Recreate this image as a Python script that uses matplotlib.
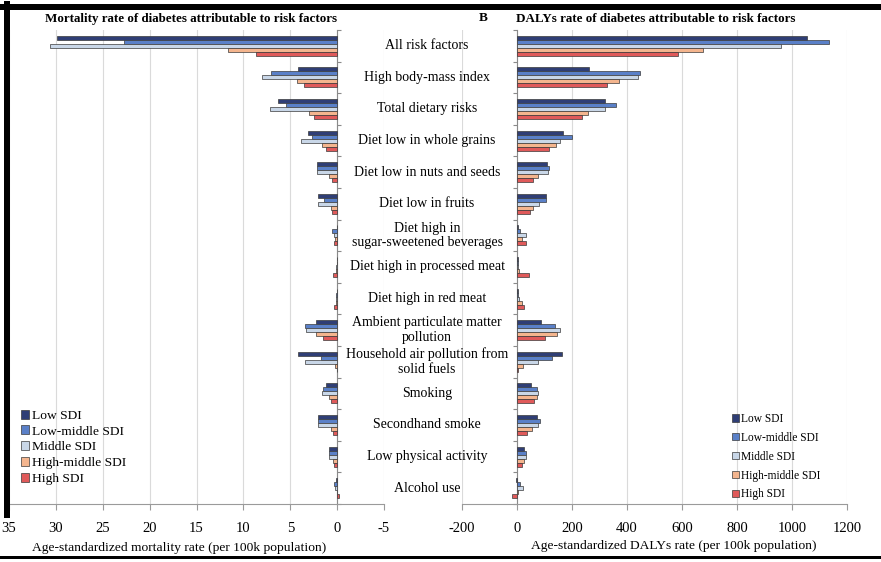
import matplotlib
matplotlib.use("Agg")
import matplotlib.pyplot as plt
import matplotlib.transforms as mtransforms
from matplotlib.lines import Line2D
import numpy as np

plt.rcParams["font.family"] = ["Liberation Serif", "DejaVu Serif"]

categories = [
    "All risk factors",
    "High body-mass index",
    "Total dietary risks",
    "Diet low in whole grains",
    "Diet low in nuts and seeds",
    "Diet low in fruits",
    "Diet high in\nsugar-sweetened beverages",
    "Diet high in processed meat",
    "Diet high in red meat",
    "Ambient particulate matter\npollution",
    "Household air pollution from\nsolid fuels",
    "Smoking",
    "Secondhand smoke",
    "Low physical activity",
    "Alcohol use",
]

series = ["Low SDI", "Low-middle SDI", "Middle SDI", "High-middle SDI", "High SDI"]
colors = ["#2F3E75", "#5A80C8", "#C9D7E8", "#F4B58E", "#E05A5A"]

# mortality rate per 100k, one list per SDI group
mort_low = [29.9, 4.15, 6.3, 3.1, 2.1, 2.0, 0.05, 0.05, 0.05, 2.3, 4.15, 1.2, 2.0, 0.85, 0.15]
mort_lowmid = [22.7, 7.05, 5.5, 2.65, 2.1, 1.4, 0.5, 0.05, 0.1, 3.4, 1.75, 1.55, 2.05, 0.85, 0.3]
mort_mid = [30.6, 8.0, 7.2, 3.9, 2.2, 2.0, 0.3, 0.1, 0.1, 3.3, 3.4, 1.6, 2.0, 0.9, 0.25]
mort_highmid = [11.6, 4.3, 3.0, 1.6, 0.85, 0.7, 0.2, 0.1, 0.15, 2.3, 0.2, 0.85, 0.7, 0.4, 0.05]
mort_high = [8.65, 3.5, 2.45, 1.2, 0.6, 0.5, 0.35, 0.45, 0.3, 1.55, 0.05, 0.7, 0.45, 0.35, -0.15]

# DALYs rate per 100k
daly_low = [1054, 260, 321, 167, 109, 107, 3, 2, 2, 88, 164, 52, 73, 27, -2]
daly_lowmid = [1133, 448, 360, 200, 116, 107, 12, 3, 5, 139, 127, 73, 82, 33, 12]
daly_mid = [960, 439, 321, 157, 113, 81, 33, 5, 8, 157, 75, 78, 78, 31, 22]
daly_highmid = [676, 370, 257, 142, 76, 58, 18, 6, 18, 145, 22, 74, 55, 24, 5]
daly_high = [584, 327, 236, 115, 58, 46, 34, 42, 24, 103, 3, 63, 36, 18, -18]

mort = [mort_low, mort_lowmid, mort_mid, mort_highmid, mort_high]
daly = [daly_low, daly_lowmid, daly_mid, daly_highmid, daly_high]

W, H = 881, 562
fig = plt.figure(figsize=(W / 100, H / 100), dpi=100)


def px_rect(x0, y0, x1, y1):
    return [x0 / W, 1 - y1 / H, (x1 - x0) / W, (y1 - y0) / H]


ax1 = fig.add_axes(px_rect(9, 30, 384, 504))
ax2 = fig.add_axes(px_rect(462, 30, 847, 504))

n = len(categories)
y = np.arange(n)
bar_h = 0.127


def draw_panel(ax, data, xlim, xticks, zero_spine):
    for k, (vals, col, name) in enumerate(zip(data, colors, series)):
        ax.barh(y + (k - 2) * bar_h, vals, height=bar_h, color=col,
                edgecolor="#3A3A3A", linewidth=0.5, label=name, zorder=3)
    ax.set_xlim(*xlim)
    ax.set_ylim(n - 0.5, -0.5)
    ax.set_xticks(xticks)
    ax.set_xticklabels([f"{t:g}" for t in xticks], fontsize=10.5)
    ax.grid(axis="x", color="#DADADA", linewidth=0.8, zorder=0)
    ax.set_axisbelow(True)
    for s in ["top", "left", "right"]:
        ax.spines[s].set_visible(False)
    ax.spines["bottom"].set_color("#9A9A9A")
    ax.tick_params(axis="x", direction="out", length=4, color="#9A9A9A", pad=9)
    sp = ax.spines[zero_spine]
    sp.set_visible(True)
    sp.set_position(("data", 0))
    sp.set_color("#8A8A8A")
    ax.set_yticks(np.arange(-0.5, n, 1.0))
    ax.set_yticklabels([])
    if zero_spine == "right":
        ax.yaxis.tick_right()
    else:
        ax.yaxis.tick_left()
    ax.tick_params(axis="y", direction="out", length=3, color="#8A8A8A")


draw_panel(ax1, mort, (35, -5), [35, 30, 25, 20, 15, 10, 5, 0, -5], "right")
draw_panel(ax2, daly, (-200, 1200), [-200, 0, 200, 400, 600, 800, 1000, 1200], "left")

fig.text(179 / W, 1 - 548 / H, "Age-standardized mortality rate (per 100k population)",
         ha="center", va="center", fontsize=9.7)
fig.text(674 / W, 1 - 546 / H, "Age-standardized DALYs rate (per 100k population)",
         ha="center", va="center", fontsize=9.7)

# category labels in the gap between the panels
trans = mtransforms.blended_transform_factory(fig.transFigure, ax1.transData)
for i, cat in enumerate(categories):
    fig.text(427 / W, i, cat, transform=trans, ha="center", va="center",
             fontsize=10, linespacing=1.15)

fig.text(191 / W, 1 - 19 / H, "Mortality rate of diabetes attributable to risk factors",
         ha="center", va="center", fontsize=9.4, fontweight="bold")
fig.text(516 / W, 1 - 19 / H, "DALYs rate of diabetes attributable to risk factors",
         ha="left", va="center", fontsize=9.4, fontweight="bold")
fig.text(483 / W, 1 - 18 / H, "B", ha="center", va="center", fontsize=9.5, fontweight="bold")

ax1.legend(loc="upper left", bbox_to_anchor=(14 / W, 1 - 403 / H),
           bbox_transform=fig.transFigure, frameon=False, fontsize=9.7,
           handlelength=0.65, handleheight=0.65, handletextpad=0.2,
           labelspacing=0.26, borderpad=0)
ax2.legend(loc="upper left", bbox_to_anchor=(726 / W, 1 - 407 / H),
           bbox_transform=fig.transFigure, frameon=False, fontsize=8.3,
           handlelength=0.65, handleheight=0.65, handletextpad=0.15,
           labelspacing=0.6, borderpad=0)

# black screenshot frame
frame = [
    ((0, W), (7, 7), 6),
    ((7, 7), (4, 515), 6),
    ((0, W), (557, 557), 3),
]
for xs, ys, lw in frame:
    fig.add_artist(Line2D([x / W for x in xs], [1 - v / H for v in ys],
                          color="black", linewidth=lw * 0.72, zorder=10))

fig.savefig("out.png", dpi=100, facecolor="white")
